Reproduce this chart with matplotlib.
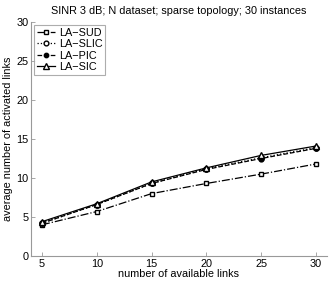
import matplotlib
matplotlib.use("Agg")
import matplotlib.pyplot as plt

plt.rcParams['font.family'] = ['Liberation Sans', 'DejaVu Sans']

x = [5, 10, 15, 20, 25, 30]
la_sud = [4.0, 5.7, 8.0, 9.3, 10.5, 11.8]
la_slic = [4.2, 6.6, 9.3, 11.2, 12.6, 13.9]
la_pic = [4.2, 6.6, 9.3, 11.1, 12.5, 13.8]
la_sic = [4.4, 6.7, 9.5, 11.3, 12.9, 14.1]
xticks = [5, 10, 15, 20, 25, 30]
yticks = [0, 5, 10, 15, 20, 25, 30]

fig = plt.figure(figsize=(3.32, 2.83), dpi=100)
ax = fig.add_axes([31/332, 27/283, 296/332, 234/283])

ax.plot(x, la_sud, color='black', linestyle='-.', marker='s', markersize=3.5,
        markerfacecolor='white', linewidth=0.9, label='LA\u2212SUD')
ax.plot(x, la_slic, color='black', linestyle=':', marker='o', markersize=3.8,
        markerfacecolor='white', linewidth=0.9, label='LA\u2212SLIC')
ax.plot(x, la_pic, color='black', linestyle='--', marker='o', markersize=3.5,
        markerfacecolor='black', linewidth=0.9, label='LA\u2212PIC')
ax.plot(x, la_sic, color='black', linestyle='-', marker='^', markersize=4.5,
        markerfacecolor='white', linewidth=0.9, label='LA\u2212SIC')

ax.set_xlim(4, 31)
ax.set_ylim(0, 30)
ax.set_xticks(xticks)
ax.set_yticks(yticks)
for s in ['top', 'right']:
    ax.spines[s].set_visible(False)
for s in ['left', 'bottom']:
    ax.spines[s].set_color('#999999')
    ax.spines[s].set_linewidth(0.8)
ax.tick_params(direction='in', length=3, width=0.6, color='#999999',
               labelsize=7.8, pad=2)
ax.set_xlabel('number of available links', fontsize=7.8, labelpad=0)
ax.set_ylabel('average number of activated links', fontsize=7.8, labelpad=2)
ax.set_title('SINR 3 dB; N dataset; sparse topology; 30 instances', fontsize=7.8, pad=6)

leg = ax.legend(loc='upper left', fontsize=7.8, frameon=True, fancybox=False,
                edgecolor='#999999', handlelength=1.7, handletextpad=0.3,
                borderaxespad=0.3, labelspacing=0.12, borderpad=0.25,
                markerscale=0.9)
leg.get_frame().set_linewidth(0.8)

fig.savefig('out.png', dpi=100)
